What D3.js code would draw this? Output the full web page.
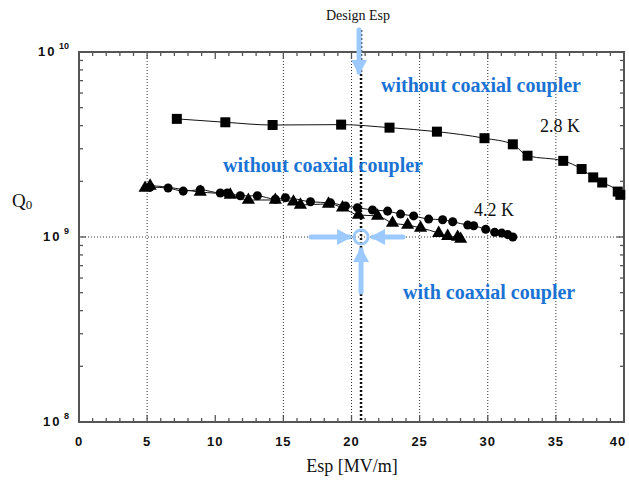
<!DOCTYPE html>
<html><head><meta charset="utf-8">
<script src="https://cdn.jsdelivr.net/npm/d3@7"></script>
<style>body{margin:0;background:#fff}svg{display:block}</style>
</head><body>
<script>
// Data (Esp in MV/m, Q0)
const sq28_x = [7.18,10.74,14.21,19.24,22.79,26.27,29.76,31.84,32.92,35.54,36.89,37.74,38.40,39.54,39.73];
const sq28_q = [4.35e9,4.17e9,4.03e9,4.05e9,3.90e9,3.71e9,3.42e9,3.17e9,2.75e9,2.58e9,2.33e9,2.10e9,1.97e9,1.76e9,1.69e9];
const circ42_x = [5.22,6.54,7.65,8.90,10.37,10.88,11.84,13.09,14.41,15.15,16.99,18.46,19.56,20.44,21.54,22.65,23.60,24.56,25.66,26.69,27.43,28.53,28.97,29.85,30.51,31.03,31.47,31.84];
const circ42_q = [1.86e9,1.84e9,1.77e9,1.80e9,1.73e9,1.73e9,1.67e9,1.67e9,1.60e9,1.63e9,1.55e9,1.53e9,1.47e9,1.44e9,1.40e9,1.38e9,1.33e9,1.30e9,1.25e9,1.24e9,1.21e9,1.16e9,1.15e9,1.10e9,1.06e9,1.05e9,1.03e9,1.00e9];
const tri_x = [4.85,5.22,8.90,11.10,12.43,14.41,15.74,16.25,18.31,19.34,20.51,21.91,23.01,24.12,25.07,26.40,27.06,27.79,28.01];
const tri_q = [1.84e9,1.89e9,1.75e9,1.69e9,1.585e9,1.585e9,1.55e9,1.49e9,1.51e9,1.44e9,1.315e9,1.30e9,1.19e9,1.16e9,1.12e9,1.05e9,1.01e9,1.00e9,0.975e9];
const xTicks = [0,5,10,15,20,25,30,35,40];
const xGrid = [5,15,20,25,30,35];
const yTickExp = [8,9,10];
const designEsp = 20.7;
const designQ = 1e9;

const W=629,H=484;
const svg=d3.select("body").append("svg").attr("width",W).attr("height",H);
const x=d3.scaleLinear().domain([0,40]).range([79,624]);
const y=d3.scaleLog().domain([1e8,1e10]).range([422,52]);
const serif="'Liberation Serif','Times New Roman',serif";
const sans="'Liberation Sans',Arial,sans-serif";

// gridlines
svg.selectAll(".gx").data(xGrid).enter().append("line")
  .attr("x1",d=>x(d)).attr("x2",d=>x(d)).attr("y1",y(1e10)).attr("y2",y(1e8))
  .attr("stroke","#333").attr("stroke-width",1).attr("stroke-dasharray","1,2");
svg.append("line").attr("x1",x(0)).attr("x2",x(40)).attr("y1",y(1e9)).attr("y2",y(1e9))
  .attr("stroke","#333").attr("stroke-width",1).attr("stroke-dasharray","1,2");

// design Esp line
svg.append("line").attr("x1",x(designEsp)).attr("x2",x(designEsp)).attr("y1",30).attr("y2",y(1e8))
  .attr("stroke","#111").attr("stroke-width",2.5).attr("stroke-dasharray","2,2");

// frame ticks
const minorX=d3.range(0,41,1);
const g=svg.append("g").attr("stroke","#555").attr("stroke-width",1.3);
minorX.forEach(v=>{
  const len = v%5===0?7:4;
  g.append("line").attr("x1",x(v)).attr("x2",x(v)).attr("y1",y(1e8)).attr("y2",y(1e8)-len);
  g.append("line").attr("x1",x(v)).attr("x2",x(v)).attr("y1",y(1e10)).attr("y2",y(1e10)+len);
});
const minorY=[];
[1e8,1e9].forEach(b=>{for(let k=1;k<=9;k++) minorY.push(b*k);});
minorY.forEach(v=>{
  const len = (Math.log10(v)%1===0)?7:4;
  g.append("line").attr("x1",x(0)).attr("x2",x(0)+len).attr("y1",y(v)).attr("y2",y(v));
  g.append("line").attr("x1",x(40)).attr("x2",x(40)-len).attr("y1",y(v)).attr("y2",y(v));
});
svg.append("rect").attr("x",x(0)).attr("y",y(1e10)).attr("width",x(40)-x(0)).attr("height",y(1e8)-y(1e10))
  .attr("fill","none").attr("stroke","#555").attr("stroke-width",2);

// x tick labels
svg.selectAll(".xl").data(xTicks).enter().append("text")
  .attr("x",d=>Math.min(x(d),618)).attr("y",446).attr("text-anchor","middle")
  .attr("font-family",sans).attr("font-weight","bold").attr("font-size",13).attr("letter-spacing",1)
  .attr("fill","#111").text(d=>d);
// y tick labels
yTickExp.forEach(e=>{
  const t=svg.append("text").attr("x",x(0)-10).attr("y",y(Math.pow(10,e))+4).attr("text-anchor","end")
    .attr("font-family",sans).attr("font-weight","bold").attr("font-size",13).attr("fill","#111");
  t.append("tspan").attr("letter-spacing",2).text("10");
  t.append("tspan").attr("dy",-7).attr("font-size",9).text(" "+e);
});

// axis titles
svg.append("text").attr("x",352).attr("y",472).attr("text-anchor","middle")
  .attr("font-family",serif).attr("font-size",18).attr("fill","#111").text("Esp [MV/m]");
const qt=svg.append("text").attr("x",12).attr("y",207).attr("font-family",serif).attr("font-size",19).attr("fill","#111");
qt.append("tspan").text("Q");
qt.append("tspan").attr("font-size",13).attr("dy",2).text("0");
svg.append("text").attr("x",358).attr("y",20).attr("text-anchor","middle")
  .attr("font-family",serif).attr("font-size",14).attr("fill","#111").text("Design Esp");

// series lines
function drawSeries(xs,qs,sym,size){
  const pts=xs.map((v,i)=>[v,qs[i]]);
  svg.append("path").datum(pts).attr("fill","none").attr("stroke","#111").attr("stroke-width",1)
    .attr("d",d3.line().x(d=>x(d[0])).y(d=>y(d[1])).curve(d3.curveMonotoneX));
  svg.append("g").selectAll("path").data(pts).enter().append("path")
    .attr("transform",d=>`translate(${x(d[0])},${y(d[1])})`)
    .attr("d",d3.symbol().type(sym).size(size)).attr("fill","#000");
}
drawSeries(tri_x,tri_q,d3.symbolTriangle,75);
drawSeries(circ42_x,circ42_q,d3.symbolCircle,64);
drawSeries(sq28_x,sq28_q,d3.symbolSquare,100);

// annotations
const blue="#1a73d4";
function btext(t,xx,yy){svg.append("text").attr("x",xx).attr("y",yy).attr("font-family",serif)
  .attr("font-weight","bold").attr("font-size",20).attr("fill",blue).text(t);}
btext("without coaxial coupler",381,92);
btext("without coaxial coupler",223,172);
btext("with coaxial coupler",403,299);
svg.append("text").attr("x",540).attr("y",132).attr("font-family",serif).attr("font-size",18).attr("fill","#111").text("2.8 K");
svg.append("text").attr("x",474).attr("y",216).attr("font-family",serif).attr("font-size",18).attr("fill","#111").text("4.2 K");

// light blue arrows
const lb="#9ccaff";
const cx=x(designEsp), cy=y(designQ);
function arrow(x1,y1,x2,y2){
  svg.append("line").attr("x1",x1).attr("y1",y1).attr("x2",x2).attr("y2",y2)
    .attr("stroke",lb).attr("stroke-width",5).attr("stroke-linecap","round");
  const ang=Math.atan2(y2-y1,x2-x1);
  const L=12,Wd=8;
  const p=[[x2+3*Math.cos(ang),y2+3*Math.sin(ang)],
    [x2-L*Math.cos(ang)+Wd*Math.sin(ang),y2-L*Math.sin(ang)-Wd*Math.cos(ang)],
    [x2-L*Math.cos(ang)-Wd*Math.sin(ang),y2-L*Math.sin(ang)+Wd*Math.cos(ang)]];
  svg.append("path").attr("d","M"+p.map(q=>q.join(",")).join("L")+"Z").attr("fill",lb);
}
arrow(cx-2,30,cx-2,72);
arrow(cx-50,cy,cx-12,cy);
arrow(cx+42,cy,cx+12,cy);
arrow(cx,cy+55,cx,cy+13);
svg.append("circle").attr("cx",cx).attr("cy",cy).attr("r",7).attr("fill","none").attr("stroke",lb).attr("stroke-width",3);
</script>
</body></html>
